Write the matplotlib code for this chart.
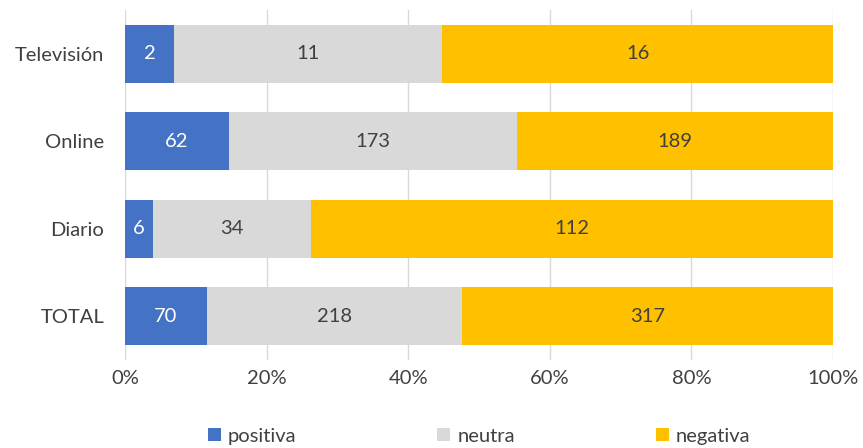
import matplotlib
matplotlib.use("Agg")
import matplotlib.pyplot as plt
import numpy as np

plt.rcParams['font.family'] = ['Lato', 'DejaVu Sans']

categories = ["Televisión", "Online", "Diario", "TOTAL"]
positiva = [2, 62, 6, 70]
neutra = [11, 173, 34, 218]
negativa = [16, 189, 112, 317]
series_names = ["positiva", "neutra", "negativa"]
colors = ["#4472C4", "#D9D9D9", "#FFC000"]
label_colors = ["white", "#404040", "#404040"]
xtick_labels = ["0%", "20%", "40%", "60%", "80%", "100%"]

FS = 14.5

fig = plt.figure(figsize=(8.63, 4.48), dpi=100)
ax = fig.add_axes([125/863, 1-360/448, (833-125)/863, 350/448])

data = np.array([positiva, neutra, negativa], dtype=float)
totals = data.sum(axis=0)
pct = data / totals
y = np.arange(len(categories))
left = np.zeros(len(categories))
for i, name in enumerate(series_names):
    bars = ax.barh(y, pct[i], left=left, height=0.66, color=colors[i], label=name, zorder=3)
    for j, b in enumerate(bars):
        ax.text(left[j] + pct[i][j] / 2, y[j], str(int(data[i][j])), ha='center', va='center',
                color=label_colors[i], fontsize=FS, zorder=4)
    left += pct[i]

ax.set_ylim(3.5, -0.5)
ax.set_xlim(0, 1)
ax.set_yticks(y)
ax.set_yticklabels(categories, fontsize=FS, color="#404040")
ax.set_xticks(np.linspace(0, 1, 6))
ax.set_xticklabels(xtick_labels, fontsize=FS, color="#404040")
ax.tick_params(axis='both', length=0)
ax.tick_params(axis='x', pad=7)
ax.tick_params(axis='y', pad=15)
ax.grid(axis='x', color="#D9D9D9", linewidth=1, zorder=0)
for s in ax.spines.values():
    s.set_visible(False)

leg = fig.legend(loc='center', bbox_to_anchor=(479/863, 1-436/448), ncol=3, frameon=False,
                 fontsize=FS, handlelength=0.65, handleheight=0.65, handletextpad=0.35,
                 columnspacing=7.0)
for t in leg.get_texts():
    t.set_color("#404040")

fig.savefig("out.png", dpi=100)
